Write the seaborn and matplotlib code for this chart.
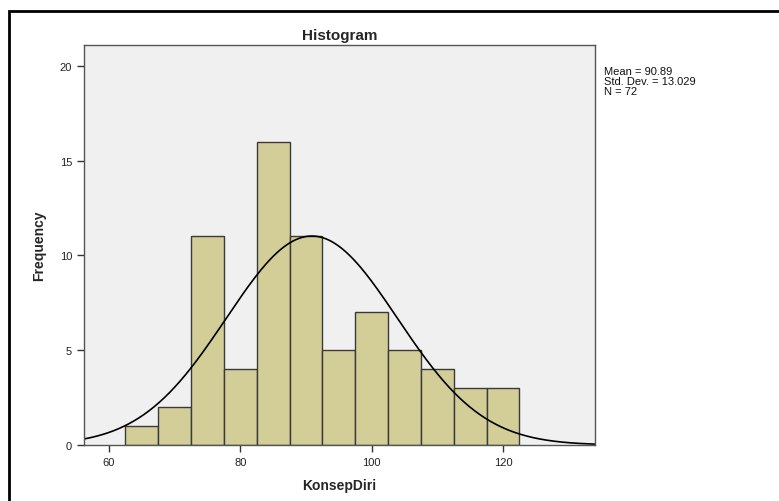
import numpy as np
import pandas as pd
import matplotlib
matplotlib.use('Agg')
import matplotlib.pyplot as plt
import seaborn as sns

# bin edges and counts
bin_edges = [62.5, 67.5, 72.5, 77.5, 82.5, 87.5, 92.5, 97.5, 102.5, 107.5, 112.5, 117.5, 122.5]
counts = [1, 2, 11, 4, 16, 11, 5, 7, 5, 4, 3, 3]
mean_val = 90.89
std_val = 13.029
n_val = 72

x_ticks = [60, 80, 100, 120]
y_ticks = [0, 5, 10, 15, 20]

sns.set_style('white')
plt.rcParams['font.family'] = ['Liberation Sans', 'DejaVu Sans']

mids = [(a + b) / 2 for a, b in zip(bin_edges[:-1], bin_edges[1:])]
df = pd.DataFrame({'KonsepDiri': mids, 'count': counts})

fig = plt.figure(figsize=(7.79, 5.02), dpi=100)
ax = fig.add_axes([84 / 779, 1 - 446 / 502, (595 - 84) / 779, (446 - 46) / 502])
ax.set_facecolor('#F0F0F0')

sns.histplot(data=df, x='KonsepDiri', weights='count', bins=bin_edges,
             color='#D3CD97', edgecolor='#3a3a3a', linewidth=1.0, alpha=1, ax=ax)

# normal curve scaled to the histogram
width = bin_edges[1] - bin_edges[0]
xs = np.linspace(56.2, 134.0, 400)
ys = n_val * width / (std_val * np.sqrt(2 * np.pi)) * np.exp(-0.5 * ((xs - mean_val) / std_val) ** 2)
ax.plot(xs, ys, color='black', linewidth=1.2)

ax.set_xlim(56.2, 134.0)
ax.set_ylim(0, 21.1)
ax.set_xticks(x_ticks)
ax.set_yticks(y_ticks)
ax.tick_params(axis='both', direction='out', length=5, width=1, color='#333333',
               labelsize=8, labelcolor='#222222', bottom=True, left=True)
for s in ax.spines.values():
    s.set_color('#555555')
    s.set_linewidth(1.0)

ax.set_xlabel('KonsepDiri', fontsize=10, fontweight='bold', labelpad=8)
ax.set_ylabel('Frequency', fontsize=10, fontweight='bold', labelpad=10)
ax.set_title('Histogram', fontsize=11, fontweight='bold', pad=4)

fig.text(604 / 779, 1 - 67 / 502,
         f'Mean = {mean_val:.2f}\nStd. Dev. = {std_val:.3f}\nN = {n_val}',
         fontsize=8, va='top', ha='left', linespacing=1.0, color='#111111')

# outer frame like the SPSS chart window
fig.add_artist(plt.Rectangle((9 / 779, -0.02), 1.1, 1 - 12 / 502 + 0.02,
                             transform=fig.transFigure, fill=False,
                             edgecolor='black', linewidth=2))

fig.savefig('out.png', dpi=100)
